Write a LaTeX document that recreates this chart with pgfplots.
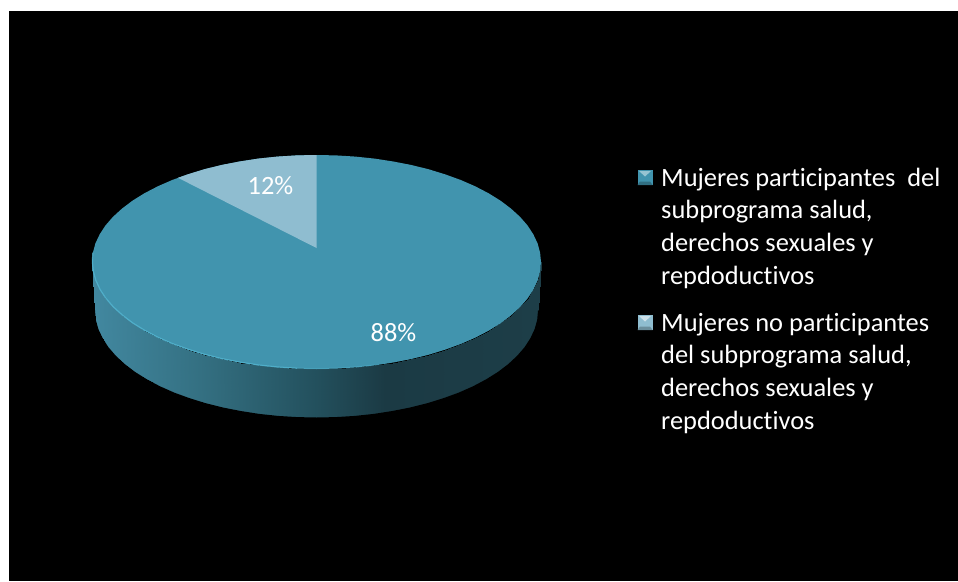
\documentclass[border=0pt]{standalone}
\usepackage{pgfplots}
\pgfplotsset{compat=1.18}
\usepackage{fontspec}
\setmainfont{Carlito}[Ligatures=CommonOff]
\definecolor{topc}{HTML}{4194AE}
\definecolor{slicec}{HTML}{8FBDD0}
\definecolor{rimc}{HTML}{55B7D3}
\pgfplotsset{colormap={sideshade}{
  rgb255(92pt)=(66,136,160);
  rgb255(200pt)=(52,112,130);
  rgb255(316pt)=(35,80,93);
  rgb255(385pt)=(27,58,68);
  rgb255(541pt)=(29,62,72)}}
\begin{document}
\begin{tikzpicture}
\begin{axis}[
  width=958pt,height=581pt,scale only axis,hide axis,clip=false,
  xmin=0,xmax=958,ymin=0,ymax=581,y dir=reverse,
  point meta min=92,point meta max=541]
% background
\addplot[fill=white,draw=none] coordinates {(0,0) (958,0) (958,581) (0,581)} --cycle;
\addplot[fill=black,draw=none] coordinates {(9,11) (958,11) (958,581) (9,581)} --cycle;
% side of the pie
\addplot[surf,shader=interp,colormap name=sideshade,point meta=x,mesh/rows=2,mesh/ordering=x varies] table {
x y
92.0 262.0
92.9 271.3
95.4 280.6
99.7 289.7
105.5 298.6
113.0 307.2
122.1 315.5
132.6 323.4
144.5 330.8
157.8 337.7
172.2 344.0
187.7 349.6
204.2 354.7
221.6 359.0
239.7 362.5
258.4 365.4
277.5 367.4
296.9 368.6
316.5 369.0
336.1 368.6
355.5 367.4
374.6 365.4
393.3 362.5
411.4 359.0
428.8 354.7
445.3 349.6
460.8 344.0
475.2 337.7
488.5 330.8
500.4 323.4
510.9 315.5
520.0 307.2
527.5 298.6
533.3 289.7
537.6 280.6
540.1 271.3
541.0 262.0
95.0 310.5
95.8 319.8
98.4 329.1
102.6 338.2
108.4 347.1
115.8 355.7
124.7 364.0
135.1 371.9
146.8 379.3
159.9 386.2
174.1 392.5
189.4 398.1
205.7 403.2
222.9 407.5
240.7 411.0
259.2 413.9
278.0 415.9
297.2 417.1
316.5 417.5
335.8 417.1
355.0 415.9
373.8 413.9
392.3 411.0
410.1 407.5
427.3 403.2
443.6 398.1
458.9 392.5
473.1 386.2
486.2 379.3
497.9 371.9
508.3 364.0
517.2 355.7
524.6 347.1
530.4 338.2
534.6 329.1
537.2 319.8
538.0 310.5
};
% soften the raster edge of the shading with a black line just outside it
\addplot[black,line width=1.6pt,line join=round] coordinates {
(94.2,310.5) (95.0,320.0) (97.6,329.4) (101.9,338.6) (107.7,347.6) (115.2,356.3) (124.2,364.7) (134.6,372.6) (146.4,380.0) (159.6,387.0) (173.8,393.3)
(189.2,398.9) (205.5,404.0) (222.7,408.3) (240.6,411.8) (259.1,414.7) (277.9,416.7) (297.2,417.9) (316.5,418.3) (335.8,417.9) (355.1,416.7) (373.9,414.7)
(392.4,411.8) (410.3,408.3) (427.5,404.0) (443.8,398.9) (459.2,393.3) (473.4,387.0) (486.6,380.0) (498.4,372.6) (508.8,364.7) (517.8,356.3) (525.3,347.6)
(531.1,338.6) (535.4,329.4) (538.0,320.0) (538.8,310.5)};
% top of the pie
\addplot[fill=topc,draw=none] coordinates {
(92.0,262.0) (92.9,252.7) (95.4,243.4) (99.7,234.3) (105.5,225.4) (113.0,216.8) (122.1,208.5) (132.6,200.6) (144.5,193.2)
(157.8,186.3) (172.2,180.0) (187.7,174.4) (204.2,169.3) (221.6,165.0) (239.7,161.5) (258.4,158.6) (277.5,156.6) (296.9,155.4)
(316.5,155.0) (336.1,155.4) (355.5,156.6) (374.6,158.6) (393.3,161.5) (411.4,165.0) (428.8,169.3) (445.3,174.4) (460.8,180.0)
(475.2,186.3) (488.5,193.2) (500.4,200.6) (510.9,208.5) (520.0,216.8) (527.5,225.4) (533.3,234.3) (537.6,243.4) (540.1,252.7)
(541.0,262.0) (540.1,271.3) (537.6,280.6) (533.3,289.7) (527.5,298.6) (520.0,307.2) (510.9,315.5) (500.4,323.4) (488.5,330.8)
(475.2,337.7) (460.8,344.0) (445.3,349.6) (428.8,354.7) (411.4,359.0) (393.3,362.5) (374.6,365.4) (355.5,367.4) (336.1,368.6)
(316.5,369.0) (296.9,368.6) (277.5,367.4) (258.4,365.4) (239.7,362.5) (221.6,359.0) (204.2,354.7) (187.7,349.6) (172.2,344.0)
(157.8,337.7) (144.5,330.8) (132.6,323.4) (122.1,315.5) (113.0,307.2) (105.5,298.6) (99.7,289.7) (95.4,280.6) (92.9,271.3)} --cycle;
% rim highlight, lower left
\addplot[rimc,line width=1.2pt,opacity=0.75,line join=round] coordinates {
(92.8,252.7) (92.4,262.0) (93.3,271.0) (95.8,280.2) (100.0,289.3) (105.8,298.2) (113.3,306.8) (122.4,315.1) (132.9,323.0) (144.8,330.4)
(158.1,337.3) (172.5,343.6) (188.0,349.2) (204.5,354.3) (221.9,358.6) (240.0,362.1) (258.7,365.0) (277.8,367.0) (297.0,368.2)};
\addplot[rimc,line width=1.2pt,opacity=0.35] coordinates {(297.0,368.2) (316.5,368.6) (336.1,368.2) (355.5,367.0) (374.6,365.0)};
% 12 % slice
\addplot[fill=slicec,draw=none] coordinates {
(316.5,248.0) (178.0,177.8) (187.7,174.4) (204.2,169.3) (221.6,165.0) (239.7,161.5) (258.4,158.6) (277.5,156.6) (296.9,155.4) (316.5,155.0)} --cycle;
\node[white,font=\fontsize{26.4}{26.4}\selectfont] at (axis cs:270.5,185.5) {12\%};
\node[white,font=\fontsize{26.4}{26.4}\selectfont] at (axis cs:393.5,333) {88\%};
% legend keys
\addplot[fill=topc,draw=none] coordinates {(637.5,170) (652.5,170) (652.5,185) (637.5,185)} --cycle;
\addplot[fill=topc!55!white,draw=none] coordinates {(639,171) (651,171) (645,176.5)} --cycle;
\addplot[fill=topc!75!black,draw=none] coordinates {(637.5,185) (652.5,185) (650,181.5) (640,181.5)} --cycle;
\addplot[fill=slicec,draw=none] coordinates {(637.5,315) (652.5,315) (652.5,330) (637.5,330)} --cycle;
\addplot[fill=slicec!45!white,draw=none] coordinates {(639,316) (651,316) (645,321.5)} --cycle;
\addplot[fill=slicec!75!black,draw=none] coordinates {(637.5,330) (652.5,330) (650,326.5) (640,326.5)} --cycle;
% legend text
\begin{scope}[every node/.style={white,anchor=base west,inner sep=0pt,font=\fontsize{26.4}{26.4}\selectfont}]
\node at (axis cs:661,186) {Mujeres participantes\ \ del};
\node at (axis cs:661,218.5) {subprograma salud,};
\node at (axis cs:661,251.5) {derechos sexuales y};
\node at (axis cs:661,284.5) {repdoductivos};
\node at (axis cs:661,331) {Mujeres no participantes};
\node at (axis cs:661,363.5) {del subprograma salud,};
\node at (axis cs:661,396.5) {derechos sexuales y};
\node at (axis cs:661,429.5) {repdoductivos};
\end{scope}
\end{axis}
\end{tikzpicture}
\end{document}
